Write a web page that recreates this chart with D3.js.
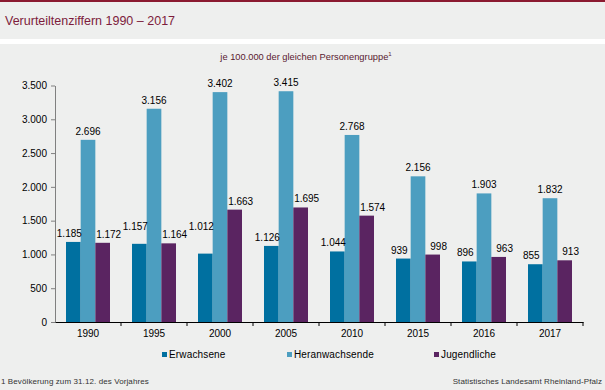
<!DOCTYPE html>
<html><head><meta charset="utf-8">
<script src="https://cdn.jsdelivr.net/npm/d3@7"></script>
<style>
html,body{margin:0;padding:0;background:#fff;}
svg{display:block;font-family:"Liberation Sans",Arial,sans-serif;}
</style></head>
<body>
<svg id="chart" width="605" height="390"></svg>
<script>
const years = ["1990","1995","2000","2005","2010","2015","2016","2017"];
const seriesNames = ["Erwachsene","Heranwachsende","Jugendliche"];
const erwachsene = [1185,1157,1012,1126,1044,939,896,855];
const heranwachsende = [2696,3156,3402,3415,2768,2156,1903,1832];
const jugendliche = [1172,1164,1663,1695,1574,998,963,913];
const yTicks = [0,500,1000,1500,2000,2500,3000,3500];
const colors = ["#0070a0","#4c9ec0","#5a2461"];

const seriesValues = [erwachsene, heranwachsende, jugendliche];
const de = d3.formatLocale({decimal:",", thousands:".", grouping:[3], currency:["","€"]});
const fmt = de.format(",d");

const svg = d3.select("#chart");
// backgrounds
svg.append("rect").attr("x",0).attr("y",0).attr("width",605).attr("height",390).attr("fill","#ffffff");
svg.append("rect").attr("x",0).attr("y",0).attr("width",605).attr("height",39).attr("fill","#eeefee");
svg.append("rect").attr("x",0).attr("y",0).attr("width",605).attr("height",2).attr("fill","#8b1a30");
svg.append("rect").attr("x",0).attr("y",44).attr("width",605).attr("height",346).attr("fill","#eeefee");

svg.append("text").attr("x",5).attr("y",25).attr("font-size",12.5).attr("fill","#7d1c3c")
  .text("Verurteiltenziffern 1990 – 2017");

const sub = svg.append("text").attr("x",306).attr("y",60).attr("text-anchor","middle")
  .attr("font-size",9.3).attr("fill","#5a1a30");
sub.append("tspan").text("je 100.000 der gleichen Personengruppe");
sub.append("tspan").attr("dy",-4).attr("font-size",6).text("1");

const x0 = d3.scaleBand().domain(years).range([55,583]).padding(0);
const x1 = d3.scaleBand().domain(seriesNames).range([0,x0.bandwidth()]).paddingInner(0).paddingOuter(0.75);
const y = d3.scaleLinear().domain([0,3500]).range([322,85.5]);

// y axis
const ya = svg.append("g").attr("transform","translate(55,0)")
  .call(d3.axisLeft(y).tickValues(yTicks).tickFormat(fmt).tickSize(4).tickSizeOuter(0));
ya.select(".domain").attr("stroke","#808080");
ya.selectAll(".tick line").attr("stroke","#808080");
ya.selectAll(".tick text").attr("font-size",10).attr("fill","#000").attr("font-family","Liberation Sans, Arial, sans-serif").attr("x",-8);

// bars
const labelShift = [-4, 0, 6];
const barsG = svg.append("g");
const labelsG = svg.append("g");
const labels = [];
years.forEach((yr, i) => {
  seriesNames.forEach((s, si) => {
    const v = seriesValues[si][i];
    barsG.append("rect")
      .attr("x", x0(yr) + x1(s))
      .attr("width", x1.bandwidth())
      .attr("y", y(v))
      .attr("height", y(0) - y(v))
      .attr("fill", colors[si]);
    const t = labelsG.append("text")
      .attr("x", x0(yr) + x1(s) + x1.bandwidth()/2 + labelShift[si])
      .attr("y", y(v) - 5)
      .attr("text-anchor","middle").attr("font-size",10).attr("fill","#000")
      .text(fmt(v));
    labels.push({t, si, i, base: y(v) - 5});
  });
});
// simple collision avoidance: raise Erwachsene label if it nearly touches previous group's Jugendliche label
labels.forEach(l => {
  if (l.si !== 0 || l.i === 0) return;
  const prev = labels.find(o => o.si === 2 && o.i === l.i - 1);
  const a = l.t.node().getBBox(), b = prev.t.node().getBBox();
  const hGap = a.x - (b.x + b.width);
  const vOverlap = !(a.y + a.height < b.y || b.y + b.height < a.y);
  if (hGap < 8 && vOverlap) {
    l.t.attr("y", Math.min(l.base, prev.base) - 8);
  }
});

// x axis
const xa = svg.append("g").attr("transform","translate(0,322)")
  .call(d3.axisBottom(x0).tickSize(0).tickSizeOuter(0));
xa.select(".domain").attr("stroke","#000");
xa.selectAll(".tick text").attr("font-size",10).attr("fill","#000").attr("dy","1.15em").attr("font-family","Liberation Sans, Arial, sans-serif");
const bounds = years.slice(1).map(d => x0(d)).concat([x0.range()[1]]);
xa.selectAll("line.bt").data(bounds).join("line").attr("class","bt")
  .attr("x1", d=>d).attr("x2", d=>d).attr("y1",0).attr("y2",4).attr("stroke","#000");

// legend
const legendX = [162, 287, 434];
const lg = svg.append("g");
seriesNames.forEach((s, si) => {
  lg.append("rect").attr("x", legendX[si]).attr("y", 352).attr("width",5).attr("height",5).attr("fill", colors[si]);
  lg.append("text").attr("x", legendX[si]+7).attr("y", 358).attr("font-size",10).attr("letter-spacing",0.15).attr("fill","#000").text(s);
});

// footnotes
svg.append("text").attr("x",1).attr("y",384).attr("font-size",8).attr("letter-spacing",0.1).attr("fill","#333").text("1 Bevölkerung  zum 31.12. des Vorjahres");
svg.append("text").attr("x",602).attr("y",384).attr("text-anchor","end").attr("font-size",8).attr("letter-spacing",0.1).attr("fill","#333").text("Statistisches Landesamt Rheinland-Pfalz");
</script>
</body></html>
